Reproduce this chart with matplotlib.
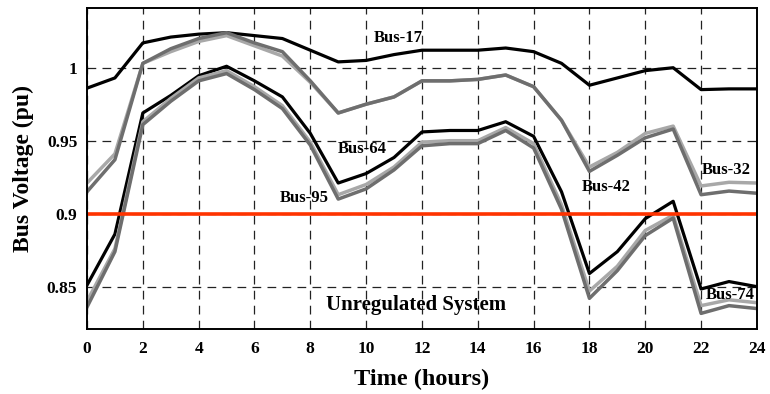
import numpy as np
import matplotlib
matplotlib.use('Agg')
import matplotlib.pyplot as plt

plt.rcParams['font.family'] = ['Liberation Serif', 'DejaVu Serif']
plt.rcParams['font.weight'] = 'bold'

hours = np.arange(0, 25)

# Bus voltages (pu), unregulated system
bus17 = [0.986, 0.993, 1.017, 1.021, 1.023, 1.024, 1.022, 1.020, 1.012, 1.004, 1.005, 1.009,
         1.012, 1.012, 1.012, 1.0135, 1.011, 1.003, 0.988, 0.993, 0.998, 1.000, 0.985, 0.9855, 0.9855]
bus32 = [0.921, 0.941, 1.003, 1.011, 1.018, 1.022, 1.015, 1.008, 0.990, 0.969, 0.975, 0.980,
         0.991, 0.991, 0.992, 0.995, 0.987, 0.964, 0.932, 0.942, 0.955, 0.960, 0.919, 0.9215, 0.921]
bus42 = [0.915, 0.937, 1.003, 1.013, 1.020, 1.024, 1.017, 1.011, 0.991, 0.969, 0.975, 0.980,
         0.991, 0.991, 0.992, 0.995, 0.987, 0.964, 0.929, 0.940, 0.952, 0.958, 0.913, 0.9155, 0.914]
bus64 = [0.851, 0.886, 0.969, 0.981, 0.9945, 1.001, 0.991, 0.980, 0.955, 0.921, 0.9275, 0.9385,
         0.956, 0.957, 0.957, 0.963, 0.953, 0.915, 0.859, 0.874, 0.8966, 0.9085, 0.8484, 0.8535, 0.850]
bus95 = [0.840, 0.876, 0.963, 0.979, 0.993, 0.998, 0.987, 0.974, 0.949, 0.913, 0.920, 0.932,
         0.949, 0.950, 0.950, 0.959, 0.948, 0.906, 0.847, 0.864, 0.8885, 0.899, 0.837, 0.841, 0.839]
bus74 = [0.836, 0.874, 0.961, 0.977, 0.991, 0.996, 0.985, 0.972, 0.947, 0.910, 0.917, 0.930,
         0.9465, 0.948, 0.948, 0.957, 0.945, 0.903, 0.842, 0.861, 0.885, 0.897, 0.8317, 0.837, 0.835]
limit = 0.9

fig, ax = plt.subplots(figsize=(7.7, 3.94), dpi=100)
fig.subplots_adjust(left=0.113, right=0.983, top=0.980, bottom=0.165)

ax.plot(hours, bus17, color='black', lw=2.3)
ax.plot(hours, bus32, color='#a8a8a8', lw=2.5)
ax.plot(hours, bus42, color='#6e6e6e', lw=2.5)
ax.plot(hours, bus64, color='black', lw=2.3)
ax.plot(hours, bus95, color='#a8a8a8', lw=2.5)
ax.plot(hours, bus74, color='#6e6e6e', lw=2.5)
ax.axhline(limit, color='#ff3300', lw=2.6)

# labels
lab = dict(fontsize=12, fontweight='bold', ha='center', va='center')
ax.text(11.15, 1.0206, 'Bus-17', **lab)
ax.text(9.85, 0.944, 'Bus-64', **lab)
ax.text(7.8, 0.911, 'Bus-95', **lab)
ax.text(18.6, 0.918, 'Bus-42', **lab)
ax.text(22.9, 0.930, 'Bus-32', **lab)
ax.text(23.05, 0.844, 'Bus-74', **lab)
ax.text(11.8, 0.8376, 'Unregulated System', fontsize=15, fontweight='bold', ha='center', va='center')

ax.set_xlim(0, 24)
ax.set_ylim(0.821, 1.041)
ax.set_xticks(np.arange(0, 25, 2))
ax.set_yticks([0.85, 0.9, 0.95, 1.0])
ax.set_yticklabels(['0.85', '0.9', '0.95', '1'])
ax.tick_params(length=0, labelsize=12.5, pad=7)
ax.tick_params(axis='x', pad=9)
for t in ax.get_xticklabels() + ax.get_yticklabels():
    t.set_fontweight('bold')
ax.grid(True, color='#222222', linestyle=(0, (7, 5)), lw=0.9)
for s in ax.spines.values():
    s.set_linewidth(1.4)

ax.set_xlabel('Time (hours)', fontsize=17.5, fontweight='bold', labelpad=8)
ax.set_ylabel('Bus Voltage (pu)', fontsize=17, fontweight='bold', labelpad=9)

plt.savefig('out.png', dpi=100)
